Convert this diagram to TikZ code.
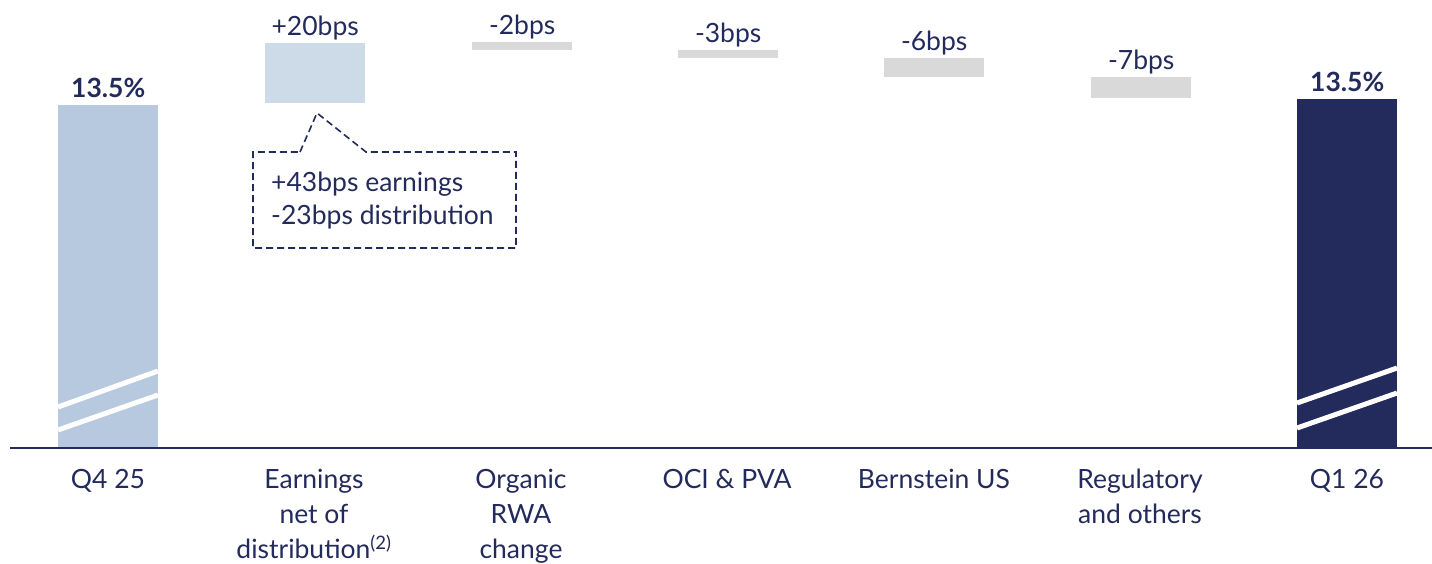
\documentclass[tikz,border=0pt]{standalone}
\usepackage{fontspec}
\setmainfont{Lato}
\usetikzlibrary{positioning}
\definecolor{navy}{HTML}{232A5C}
\definecolor{lightbar}{HTML}{B7C9DF}
\definecolor{earnbar}{HTML}{CDDBE8}
\definecolor{greybar}{HTML}{D9D9D9}
\begin{document}
\begin{tikzpicture}[x=1pt,y=-1pt,
        bar/.style={draw=none,inner sep=0pt,minimum width=100pt,anchor=north west},
        val/.style={navy,font=\fontsize{26.5}{30}\selectfont,inner sep=1pt,text depth=5pt},
        cat/.style={navy,font=\fontsize{26.5}{35}\selectfont,align=center,anchor=north,inner sep=0pt},
        slash/.style={white,line width=5pt}]
        \useasboundingbox (0,0) rectangle (1432,563);

        % waterfall bars with their values
        \foreach \n/\x/\t/\h/\c/\v in {q4/58/105/343/lightbar/\textbf{13.5\%},
                earn/265/43/60/earnbar/+20bps, org/472/42/8/greybar/-2bps,
                oci/678/50/8/greybar/-3bps, bern/884/58/19/greybar/-6bps,
                reg/1091/77/21/greybar/-7bps, q1/1297/99/349/navy/\textbf{13.5\%}} {
            \node[bar, fill=\c, minimum height=\h pt] (\n) at (\x,\t) {};
            \node[val, above=1pt of \n] (\n-v) {\v};
        }

        % break marks
        \draw[slash] (58,407) -- (158,371);
        \draw[slash] (58,430) -- (158,395);
        \draw[slash] (1297,403) -- (1397,368);
        \draw[slash] (1297,428) -- (1397,393);

        % axis
        \coordinate (ax-l) at (10,448);
        \coordinate (ax-r) at (1432,448);
        \draw[navy, line width=2pt] (ax-l) -- (ax-r);

        % categories
        \foreach \n/\x/\s in {q4/108/Q4 25, earn/314/{Earnings\\net of\\distribution\textsuperscript{(2)}},
                org/521/{Organic\\RWA\\change}, oci/727/OCI \& PVA, bern/934/Bernstein US,
                reg/1140/{Regulatory\\and others}, q1/1347/Q1 26} {
            \node[cat] (\n-c) at (\x,469) {\s};
        }

        % callout
        \node[navy, font=\fontsize{26.5}{33}\selectfont, align=left, anchor=west, inner sep=0pt] (note) at (271,201)
            {+43bps earnings\\-23bps distribution};
        \draw[navy, line width=1.6pt, dash pattern=on 7pt off 4pt]
            (300,152) -- (317,113) -- (366,152) -- (516,152) -- (516,248) -- (253,248) -- (253,152) -- cycle;
    \end{tikzpicture}
\end{document}
